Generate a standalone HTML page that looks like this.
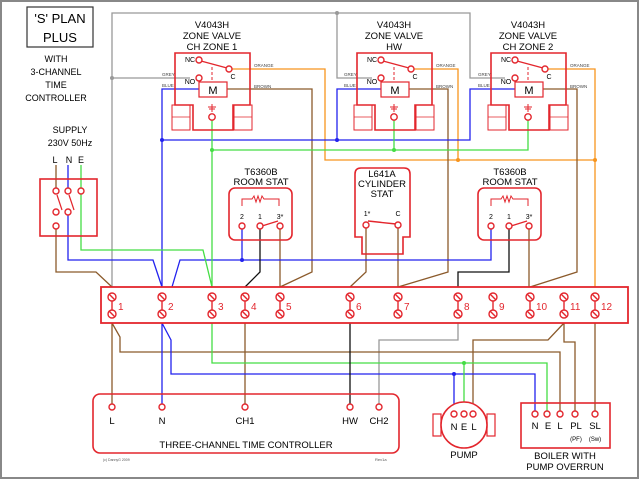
<!DOCTYPE html>
<html><head><style>
html,body{margin:0;padding:0;background:#fff;}
svg{display:block;font-family:"Liberation Sans",sans-serif;}
</style></head><body>
<svg width="640" height="480" viewBox="0 0 640 480" xmlns="http://www.w3.org/2000/svg">
<rect x="1" y="1" width="637" height="477" fill="#fff" stroke="#888" stroke-width="2"/>
<defs>
<g id="t"><line x1="0" y1="297" x2="0" y2="314"/><circle cx="0" cy="297" r="4"/><circle cx="0" cy="314" r="4"/><line x1="-3" y1="294" x2="3" y2="300"/><line x1="-3" y1="311" x2="3" y2="317"/></g>
<g id="valve">
  <path d="M175,53 H250 V105 H233 V130 H193 V105 H175 Z" fill="none" stroke="#e3262d" stroke-width="1.6"/>
  <rect x="172" y="105" width="18" height="25" fill="none" stroke="#e3262d" stroke-width="1"/>
  <line x1="172" y1="117" x2="190" y2="117" stroke="#e3262d" stroke-width="0.8"/>
  <rect x="234" y="105" width="18" height="25" fill="none" stroke="#e3262d" stroke-width="1"/>
  <line x1="234" y1="117" x2="252" y2="117" stroke="#e3262d" stroke-width="0.8"/>
  <rect x="199" y="82" width="28" height="15" fill="#fff" stroke="#e3262d" stroke-width="1.2"/>
  <text x="213" y="94" font-size="11" text-anchor="middle">M</text>
  <line x1="212" y1="67" x2="212" y2="82" stroke="#e3262d" stroke-width="1" stroke-dasharray="3,2"/>
  <line x1="201" y1="61" x2="227" y2="68" stroke="#e3262d" stroke-width="1.4"/>
  <circle cx="199" cy="60" r="3" fill="#fff" stroke="#e3262d" stroke-width="1.4"/>
  <circle cx="229" cy="69" r="3" fill="#fff" stroke="#e3262d" stroke-width="1.4"/>
  <circle cx="199" cy="78" r="3" fill="#fff" stroke="#e3262d" stroke-width="1.4"/>
  <text x="190" y="62" font-size="7" text-anchor="middle">NC</text>
  <text x="233" y="79" font-size="7" text-anchor="middle">C</text>
  <text x="190" y="84" font-size="7" text-anchor="middle">NO</text>
  <line x1="208" y1="107" x2="216" y2="107" stroke="#e3262d"/><line x1="209" y1="109" x2="215" y2="109" stroke="#e3262d"/><line x1="212" y1="104" x2="212" y2="112" stroke="#e3262d"/>
  <circle cx="212" cy="117" r="3.2" fill="#fff" stroke="#e3262d" stroke-width="1.4"/>
  <text x="162" y="76" font-size="4.5" fill="#444">GREY</text>
  <text x="162" y="87" font-size="4.5" fill="#444">BLUE</text>
  <text x="254" y="67" font-size="4.5" fill="#444">ORANGE</text>
  <text x="254" y="88" font-size="4.5" fill="#444">BROWN</text>
</g>
<g id="rstat">
  <rect x="229" y="188" width="63" height="52" rx="6" fill="none" stroke="#e3262d" stroke-width="1.6"/>
  <path d="M242,206 V199 H252 l2,-3 2,6 2,-6 2,6 2,-6 2,3 H279 V206" fill="none" stroke="#e3262d" stroke-width="1"/>
  <text x="242" y="219" font-size="7" text-anchor="middle">2</text>
  <text x="260" y="219" font-size="7" text-anchor="middle">1</text>
  <text x="280" y="219" font-size="7" text-anchor="middle">3*</text>
  <line x1="262" y1="226" x2="278" y2="221" stroke="#e3262d" stroke-width="1.4"/>
</g>
</defs>

<rect x="27" y="7" width="66" height="40" fill="none" stroke="#333" stroke-width="1.2"/>
<text x="60" y="23" font-size="13" text-anchor="middle">'S' PLAN</text>
<text x="60" y="42" font-size="13" text-anchor="middle">PLUS</text>
<g font-size="9" text-anchor="middle">
<text x="56" y="62">WITH</text><text x="56" y="75">3-CHANNEL</text><text x="56" y="88">TIME</text><text x="56" y="101">CONTROLLER</text>
<text x="70" y="133">SUPPLY</text><text x="70" y="146">230V 50Hz</text>
<text x="55" y="163">L</text><text x="69" y="163">N</text><text x="81" y="163">E</text>
</g>

<g fill="none" stroke-width="1.3">
<path d="M112,287 V13 H470 V78 H505 M337,13 V78 H372 M112,78 H190" stroke="#999"/>
<path d="M458,323 V340 H379 V405" stroke="#999"/>
<path d="M229,69 H325 V160 H595 V287 M411,69 H458 V160 M545,69 H595 V160" stroke="#f7941d"/>
<path d="M227,89 H312 V272 L280,287 M409,89 H448 V272 L398,287 M543,89 H577 V272 L530,287" stroke="#8b5a2b"/>
<path d="M56,165 V190 M56,229 V272 L96,272 L112,287" stroke="#8b5a2b"/>
<path d="M280,229 V287 M366,227 V272 L350,287 M398,227 V287 M529,229 V287" stroke="#8b5a2b"/>
<path d="M112,323 V405 M112,323 L120,337 V352 H560 V411 M245,323 V405 M564,323 L548,340 H473 V411 M564,323 V342 H575 V411 M595,323 V411" stroke="#8b5a2b"/>
<path d="M199,89 H162 V287 M162,140 H470 V89 H517 M337,140 V89 H381" stroke="#2222ee"/>
<path d="M68,165 V188 M68,215 V260 H153 L162,287 M172,287 L180,260 H491 V229 M242,229 V260" stroke="#2222ee"/>
<path d="M162,323 V405 M162,323 L171,340 V374 H535 V411 M454,374 V411" stroke="#2222ee"/>
<path d="M212,120 V287 M212,150 H528 V120 M394,150 V120 M81,165 V188 M81,194 V250 H203 L212,287" stroke="#44dd44"/>
<path d="M212,323 V363 H547 V411 M464,363 V411" stroke="#44dd44"/>
<path d="M260,229 V272 L245,287 M509,229 V272 H458 V287 M350,323 V405" stroke="#111"/>
</g>
<g fill="#2222ee"><circle cx="162" cy="140" r="2"/><circle cx="337" cy="140" r="2"/><circle cx="242" cy="260" r="2"/><circle cx="454" cy="374" r="2"/></g>
<g fill="#44dd44"><circle cx="212" cy="150" r="2"/><circle cx="394" cy="150" r="2"/><circle cx="464" cy="363" r="2"/></g>
<g fill="#f7941d"><circle cx="458" cy="160" r="2"/><circle cx="595" cy="160" r="2"/></g>
<g fill="#999"><circle cx="112" cy="78" r="2"/><circle cx="337" cy="13" r="2"/></g>

<g font-size="9.5" text-anchor="middle">
<text x="212" y="28">V4043H</text><text x="212" y="39">ZONE VALVE</text><text x="212" y="50">CH ZONE 1</text>
<text x="394" y="28">V4043H</text><text x="394" y="39">ZONE VALVE</text><text x="394" y="50">HW</text>
<text x="528" y="28">V4043H</text><text x="528" y="39">ZONE VALVE</text><text x="528" y="50">CH ZONE 2</text>
</g>
<use href="#valve"/>
<use href="#valve" transform="translate(182,0)"/>
<use href="#valve" transform="translate(316,0)"/>

<rect x="40" y="179" width="57" height="57" fill="none" stroke="#e3262d" stroke-width="1.6"/>
<line x1="57" y1="195" x2="62" y2="210" stroke="#e3262d" stroke-width="1.2"/>
<line x1="69" y1="195" x2="74" y2="210" stroke="#e3262d" stroke-width="1.2"/>
<g fill="#fff" stroke="#e3262d" stroke-width="1.4">
<circle cx="56" cy="191" r="3"/><circle cx="68" cy="191" r="3"/><circle cx="81" cy="191" r="3"/>
<circle cx="56" cy="212" r="3"/><circle cx="68" cy="212" r="3"/><circle cx="56" cy="226" r="3"/>
</g>

<g font-size="9.5" text-anchor="middle">
<text x="261" y="175">T6360B</text><text x="261" y="185">ROOM STAT</text>
<text x="510" y="175">T6360B</text><text x="510" y="185">ROOM STAT</text>
<text x="382" y="177">L641A</text><text x="382" y="187">CYLINDER</text><text x="382" y="197">STAT</text>
</g>
<use href="#rstat"/>
<use href="#rstat" transform="translate(249,0)"/>
<g fill="#fff" stroke="#e3262d" stroke-width="1.4">
<circle cx="242" cy="226" r="3"/><circle cx="260" cy="226" r="3"/><circle cx="280" cy="226" r="3"/>
<circle cx="491" cy="226" r="3"/><circle cx="509" cy="226" r="3"/><circle cx="529" cy="226" r="3"/>
</g>
<path d="M355,174 Q355,168 361,168 H404 Q410,168 410,174 V237 H403 V254 H362 V237 H355 Z" fill="none" stroke="#e3262d" stroke-width="1.6"/>
<text x="367" y="216" font-size="7" text-anchor="middle">1*</text>
<text x="398" y="216" font-size="7" text-anchor="middle">C</text>
<line x1="368" y1="221" x2="396" y2="224" stroke="#e3262d" stroke-width="1.4"/>
<g fill="#fff" stroke="#e3262d" stroke-width="1.4"><circle cx="366" cy="225" r="3"/><circle cx="398" cy="225" r="3"/></g>

<rect x="101" y="287" width="527" height="36" fill="#fff" stroke="#e3262d" stroke-width="1.8"/>
<g stroke="#e3262d" stroke-width="1.4" fill="#fff">
<use href="#t" x="112"/><use href="#t" x="162"/><use href="#t" x="212"/><use href="#t" x="245"/><use href="#t" x="280"/><use href="#t" x="350"/><use href="#t" x="398"/><use href="#t" x="458"/><use href="#t" x="493"/><use href="#t" x="530"/><use href="#t" x="564"/><use href="#t" x="595"/>
</g>
<g font-size="10" fill="#e3262d">
<text x="118" y="310">1</text><text x="168" y="310">2</text><text x="218" y="310">3</text><text x="251" y="310">4</text><text x="286" y="310">5</text><text x="356" y="310">6</text><text x="404" y="310">7</text><text x="464" y="310">8</text><text x="499" y="310">9</text><text x="536" y="310">10</text><text x="570" y="310">11</text><text x="601" y="310">12</text>
</g>

<rect x="93" y="394" width="306" height="59" rx="7" fill="none" stroke="#e3262d" stroke-width="1.6"/>
<g fill="#fff" stroke="#e3262d" stroke-width="1.4">
<circle cx="112" cy="407" r="3"/><circle cx="162" cy="407" r="3"/><circle cx="245" cy="407" r="3"/><circle cx="350" cy="407" r="3"/><circle cx="379" cy="407" r="3"/>
</g>
<g font-size="9.5" text-anchor="middle">
<text x="112" y="424">L</text><text x="162" y="424">N</text><text x="245" y="424">CH1</text><text x="350" y="424">HW</text><text x="379" y="424">CH2</text>
<text x="246" y="448">THREE-CHANNEL TIME CONTROLLER</text>
</g>
<text x="103" y="461" font-size="3.5" fill="#555">(c) DannyG 2009</text>
<text x="375" y="461" font-size="4" fill="#555">Rev1a</text>

<rect x="433" y="414" width="8" height="22" fill="none" stroke="#e3262d" stroke-width="1.2"/>
<rect x="487" y="414" width="8" height="22" fill="none" stroke="#e3262d" stroke-width="1.2"/>
<circle cx="464" cy="425" r="23" fill="#fff" stroke="#e3262d" stroke-width="1.6"/>
<g fill="#fff" stroke="#e3262d" stroke-width="1.4"><circle cx="454" cy="414" r="3"/><circle cx="464" cy="414" r="3"/><circle cx="473" cy="414" r="3"/></g>
<g font-size="9.5" text-anchor="middle">
<text x="454" y="430">N</text><text x="464" y="430">E</text><text x="474" y="430">L</text>
<text x="464" y="458">PUMP</text>
</g>

<rect x="521" y="403" width="89" height="45" fill="none" stroke="#e3262d" stroke-width="1.6"/>
<g fill="#fff" stroke="#e3262d" stroke-width="1.4"><circle cx="535" cy="414" r="3"/><circle cx="547" cy="414" r="3"/><circle cx="560" cy="414" r="3"/><circle cx="575" cy="414" r="3"/><circle cx="595" cy="414" r="3"/></g>
<g font-size="9.5" text-anchor="middle">
<text x="535" y="429">N</text><text x="548" y="429">E</text><text x="560" y="429">L</text><text x="576" y="429">PL</text><text x="595" y="429">SL</text>
<text x="565" y="459">BOILER WITH</text><text x="565" y="470">PUMP OVERRUN</text>
</g>
<text x="576" y="441" font-size="6" text-anchor="middle">(PF)</text>
<text x="595" y="441" font-size="6" text-anchor="middle">(Sw)</text>
</svg>
</body></html>
